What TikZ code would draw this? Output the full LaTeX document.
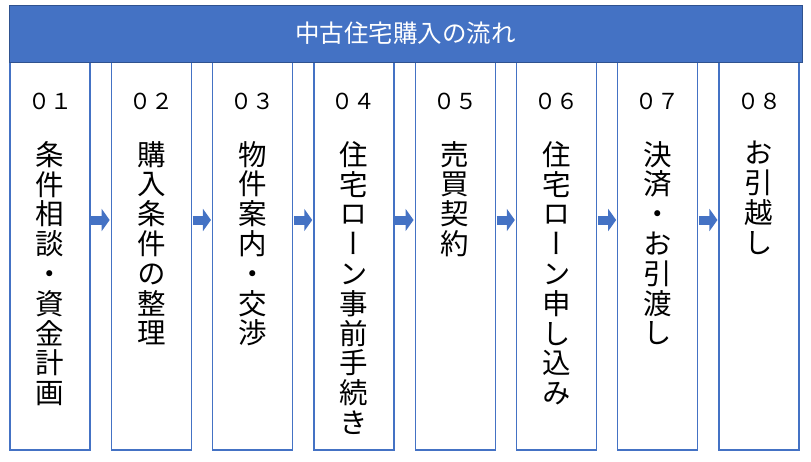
\documentclass[tikz,border=0pt]{standalone}
\usepackage{fontspec}
\setmainfont{Noto Sans CJK JP}
\newfontfamily\vjp[RawFeature=+vert]{Noto Sans CJK JP}
\usetikzlibrary{arrows.meta}
\definecolor{accent}{HTML}{4472C4}
\definecolor{accentdark}{HTML}{2F528F}
\begin{document}
\begin{tikzpicture}[x=1pt,y=-1pt,
 stepbox/.style={draw=accent, line width=1.3pt, fill=white, minimum width=80pt, minimum height=388pt, inner sep=0pt},
 header/.style={draw=accentdark, fill=accent, line width=1pt, minimum width=793pt, minimum height=57pt, inner sep=0pt, text=white, font=\fontsize{24.5}{27}\selectfont},
 num/.style={anchor=base, font=\fontsize{22}{24}\selectfont, inner sep=0pt},
 vtext/.style={anchor=north, align=center, font=\vjp\fontsize{28.5}{29.8}\selectfont, inner sep=0pt},
 flow/.style={draw=accent, line width=9pt, -{Triangle[length=8pt,width=22pt]}, shorten <=0.7pt, shorten >=1pt}]
\useasboundingbox (0,0) rectangle (811,461);
\node[stepbox] (s1) at (50,256) {};
\node[stepbox] (s2) at (151.3,256) {};
\node[stepbox] (s3) at (252.6,256) {};
\node[stepbox] (s4) at (353.9,256) {};
\node[stepbox] (s5) at (455.2,256) {};
\node[stepbox] (s6) at (556.5,256) {};
\node[stepbox] (s7) at (657.8,256) {};
\node[stepbox] (s8) at (759.1,256) {};
\node[header] (hd) at (405.5,33.5) {中古住宅購入の流れ};
\foreach \i/\n in {1/０１,2/０２,3/０３,4/０４,5/０５,6/０６,7/０７,8/０８}{
  \node[num] (n\i) at (s\i.center |- 0,109) {\n};
}
\node[vtext] (t1) at (s1.center |- 0,141) {条\\件\\相\\談\\・\\資\\金\\計\\画};
\node[vtext] (t2) at (s2.center |- 0,141) {購\\入\\条\\件\\の\\整\\理};
\node[vtext] (t3) at (s3.center |- 0,141) {物\\件\\案\\内\\・\\交\\渉};
\node[vtext] (t4) at (s4.center |- 0,141) {住\\宅\\ロ\\ー\\ン\\事\\前\\手\\続\\き};
\node[vtext] (t5) at (s5.center |- 0,141) {売\\買\\契\\約};
\node[vtext] (t6) at (s6.center |- 0,141) {住\\宅\\ロ\\ー\\ン\\申\\し\\込\\み};
\node[vtext] (t7) at (s7.center |- 0,141) {決\\済\\・\\お\\引\\渡\\し};
\node[vtext] (t8) at (s8.center |- 0,141) {お\\引\\越\\し};
\foreach \a/\b in {1/2,2/3,3/4,4/5,5/6,6/7,7/8}{
  \draw[flow] (s\a.east |- 0,220) -- (s\b.west |- 0,220);
}
\end{tikzpicture}
\end{document}
